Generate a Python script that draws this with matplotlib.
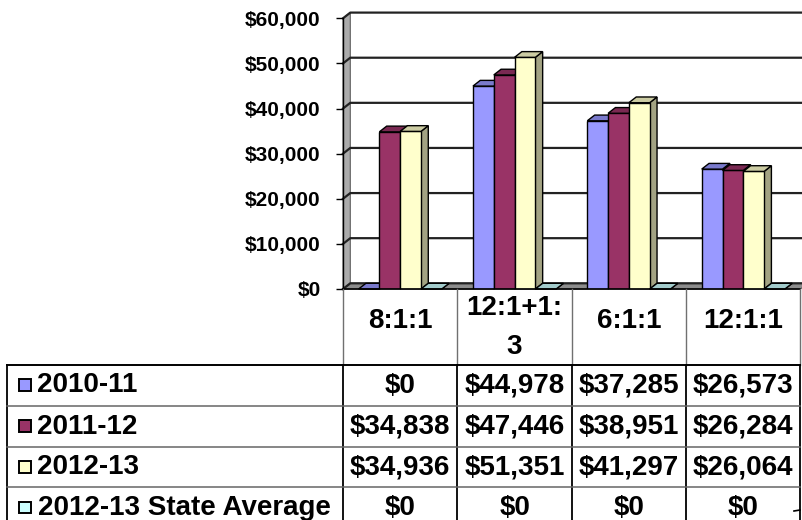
import numpy as np
import matplotlib.pyplot as plt
from matplotlib.patches import Polygon, Rectangle
from matplotlib.ticker import FuncFormatter

plt.rcParams['font.family'] = ['Liberation Sans', 'DejaVu Sans']
plt.rcParams['font.weight'] = 'bold'

# Data
categories = ['8:1:1', '12:1+1:\n3', '6:1:1', '12:1:1']
series_names = ['2010-11', '2011-12', '2012-13', '2012-13 State Average']
vals_2010_11 = [0, 44978, 37285, 26573]
vals_2011_12 = [34838, 47446, 38951, 26284]
vals_2012_13 = [34936, 51351, 41297, 26064]
vals_state_avg = [0, 0, 0, 0]
series = [vals_2010_11, vals_2011_12, vals_2012_13, vals_state_avg]
colors = ['#9999FF', '#993366', '#FFFFCC', '#CCFFFF']


def shade(hex_color, f):
    r, g, b = (int(hex_color[k:k + 2], 16) / 255 for k in (1, 3, 5))
    return (r * f, g * f, b * f)


W, H = 803, 520
fig = plt.figure(figsize=(W / 100, H / 100), dpi=100)
fig.patch.set_facecolor('white')


def px_rect(x0, y0, x1, y1):
    return [x0 / W, 1 - y1 / H, (x1 - x0) / W, (y1 - y0) / H]


# Layout of the chart (pixels)
X0, X1 = 343, 800.5
Y_TOP, Y_BASE = 18.3, 289
ncat = len(categories)
ymax = 60000
col_w = (X1 - X0) / ncat
px_per_val = (Y_BASE - Y_TOP) / ymax
DX, DY = 7.3, 5.7
ddx = DX / col_w
ddy = DY / px_per_val

ax = fig.add_axes(px_rect(X0, Y_TOP, X1, Y_BASE))
ax.set_xlim(0, ncat)
ax.set_ylim(0, ymax)
ax.patch.set_visible(False)
for s in ['top', 'right', 'bottom']:
    ax.spines[s].set_visible(False)
ax.spines['left'].set_linewidth(1)
ax.set_xticks([])
ax.set_yticks(np.arange(0, ymax + 1, 10000))
ax.yaxis.set_major_formatter(FuncFormatter(lambda v, p: f'${v:,.0f}'))
ax.tick_params(axis='y', direction='out', length=5, width=1, pad=11, labelsize=15)

# walls and floor
ax.add_patch(Polygon([(0, 0), (ddx, ddy), (ddx, ymax + ddy), (0, ymax)],
                     closed=True, fc='#ABABAB', ec='#606060', lw=0.8,
                     clip_on=False, zorder=1))
ax.add_patch(Polygon([(0, 0), (ncat, 0), (ncat + ddx, ddy), (ddx, ddy)],
                     closed=True, fc='#8C8C8C', ec='#606060', lw=0.8,
                     clip_on=False, zorder=1))
for v in ax.get_yticks():
    ax.plot([0, ddx, ncat + 3 * ddx], [v, v + ddy, v + ddy], color='#222222',
            lw=1.6, clip_on=False, zorder=1.5)

# 3D-looking columns
w = 1 / 5.5
gap = 1.5 * w
for i in range(ncat):
    for j, (vals, c) in enumerate(zip(series, colors)):
        xl = i + gap / 2 + j * w
        v = vals[i]
        z = 3 + i * 10 + j
        side = [(xl + w, 0), (xl + w + ddx, ddy), (xl + w + ddx, v + ddy), (xl + w, v)]
        top = [(xl, v), (xl + w, v), (xl + w + ddx, v + ddy), (xl + ddx, v + ddy)]
        ax.add_patch(Polygon(side, closed=True, fc=shade(c, 0.64), ec='black',
                             lw=1, clip_on=False, zorder=z))
        ax.bar(xl, v, width=w, align='edge', color=c, edgecolor='black',
               lw=1, zorder=z + 0.1)
        ax.add_patch(Polygon(top, closed=True, fc=shade(c, 0.8), ec='black',
                             lw=1, clip_on=False, zorder=z + 0.2))

# Data table below the chart
tax = fig.add_axes(px_rect(X0, Y_BASE, X1, H))
tax.set_xlim(0, ncat)
tax.set_ylim(H - Y_BASE, 0)
tax.axis('off')

row_tops = [76, 117, 157.7, 198.3]
row_h = 40.7
bottom = H - Y_BASE


def px2x(p):
    return (p - X0) / col_w


left_x = px2x(7.3)
fs = 20

tax.plot([0, ncat], [0, 0], color='black', lw=1.2, clip_on=False)
for k in range(ncat + 1):
    tax.plot([k, k], [0, row_tops[0]], color='#707070', lw=1, clip_on=False)
    tax.plot([k, k], [row_tops[0], bottom], color='black', lw=1.3, clip_on=False)
tax.plot([left_x, left_x], [row_tops[0], bottom], color='black', lw=1.3, clip_on=False)
for r, y in enumerate(row_tops):
    tax.plot([left_x, ncat], [y, y], color='black' if r == 0 else '#666666',
             lw=1.4 if r == 0 else 1.1, clip_on=False)

for i, cat in enumerate(categories):
    tax.text(i + 0.5, 29, cat, ha='center', va='center_baseline', fontsize=fs,
             linespacing=1.65, multialignment='center')

for j, (name, vals, c) in enumerate(zip(series_names, series, colors)):
    yc = row_tops[j] + 17.5
    tax.add_patch(Rectangle((px2x(19), row_tops[j] + row_h / 2 - 6),
                            px2x(31) - px2x(19), 11.5,
                            fc=c, ec='black', lw=1.4, clip_on=False))
    tax.text(px2x(37.5), yc, name, ha='left', va='center_baseline', fontsize=fs)
    for i, v in enumerate(vals):
        tax.text(i + 0.5, yc, f'${v:,}', ha='center', va='center_baseline', fontsize=fs)

# small leftover mark at the lower right
tax.plot([px2x(794), px2x(800)], [222, 221], color='black', lw=1.2, clip_on=False)

fig.savefig('out.png', dpi=100, facecolor='white')
